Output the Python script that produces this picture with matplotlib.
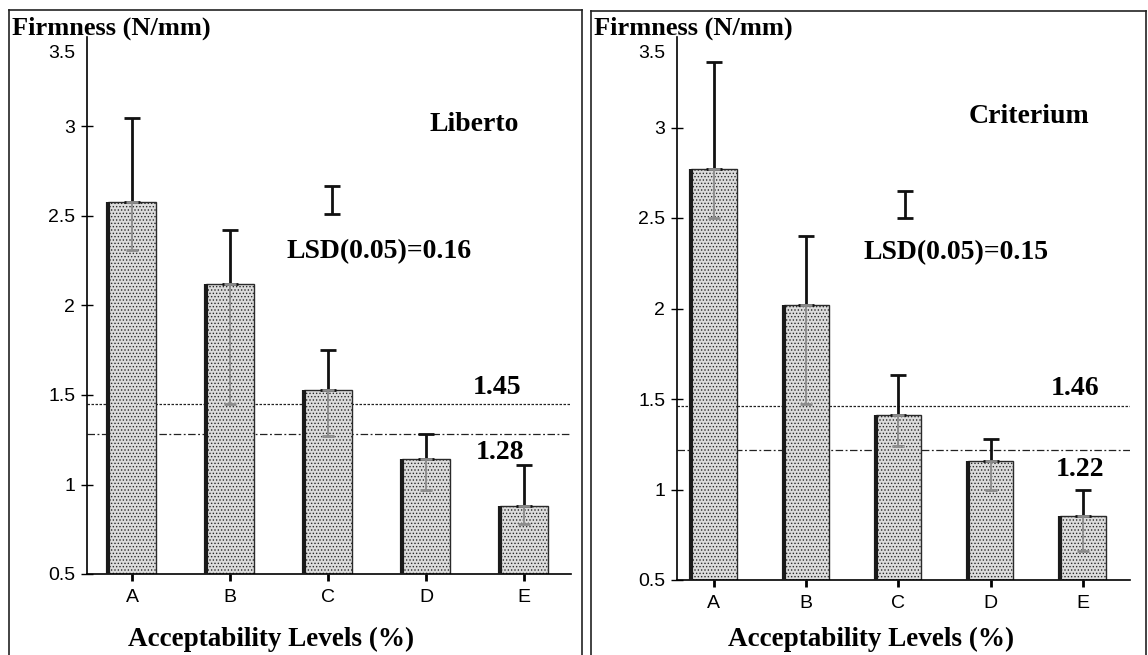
import matplotlib.pyplot as plt
import matplotlib.transforms as mtransforms
from matplotlib.lines import Line2D

# data
levels = ['A', 'B', 'C', 'D', 'E']
yticks = [0.5, 1, 1.5, 2, 2.5, 3, 3.5]

liberto_mean = [2.58, 2.12, 1.53, 1.14, 0.88]
liberto_err_up = [0.47, 0.30, 0.22, 0.14, 0.23]
liberto_err_down = [0.27, 0.67, 0.26, 0.17, 0.10]
liberto_limits = [1.45, 1.28]
liberto_lsd = 0.16

criterium_mean = [2.77, 2.02, 1.41, 1.16, 0.855]
criterium_err_up = [0.59, 0.38, 0.22, 0.12, 0.145]
criterium_err_down = [0.27, 0.55, 0.17, 0.16, 0.195]
criterium_limits = [1.46, 1.22]
criterium_lsd = 0.15

serif = 'Liberation Serif'
sans = 'Liberation Sans'


def panel(fig, rect, xlim, means, up, down, limits, lsd, lsd_x, lsd_lo,
          name, name_xy, lsd_txt_xy, lim_txt_xy):
    ax = fig.add_axes(rect)
    x = list(range(len(levels)))
    w = 0.49
    ax.bar(x, [m - 0.5 for m in means], bottom=0.5, width=w,
           color='#dcdcdc', edgecolor='#2a2a2a', linewidth=1.0,
           hatch='.....', zorder=2)
    # darker left side of each bar
    ax.vlines([i - w / 2 for i in x], 0.5, means, color='#1a1a1a',
              linewidth=3, zorder=3)
    # upper whisker (black), lower whisker (faded inside bar)
    ax.errorbar(x, means, yerr=[[0] * 5, up], fmt='none', ecolor='#111111',
                elinewidth=2, capsize=6, capthick=2, zorder=4)
    ax.errorbar(x, means, yerr=[down, [0] * 5], fmt='none', ecolor='#8c8c8c',
                elinewidth=1.3, capsize=4, capthick=2, zorder=4)

    ax.axhline(limits[0], color='#222222', lw=0.9, ls=(0, (2, 1.2)), zorder=1)
    ax.axhline(limits[1], color='#222222', lw=0.9, ls=(0, (6, 2, 1.5, 2)), zorder=1)

    # LSD bar
    ax.errorbar([lsd_x], [lsd_lo + lsd / 2], yerr=[[lsd / 2], [lsd / 2]],
                fmt='none', ecolor='#111111', elinewidth=2, capsize=6,
                capthick=2, zorder=4)

    ax.text(*name_xy, name, family=serif, weight='bold', fontsize=20,
            ha='center', va='center')
    ax.text(*lsd_txt_xy, 'LSD(0.05)=%.2f' % lsd, family=serif, weight='bold',
            fontsize=20, ha='center', va='center')
    ax.text(*lim_txt_xy[0], '%.2f' % limits[0], family=serif, weight='bold',
            fontsize=20, ha='center', va='center')
    ax.text(*lim_txt_xy[1], '%.2f' % limits[1], family=serif, weight='bold',
            fontsize=20, ha='center', va='center')

    ax.set_xlim(*xlim)
    ax.set_ylim(0.5, 3.5)
    ax.set_yticks(yticks)
    ax.set_yticklabels(['%g' % t for t in yticks], family=sans, fontsize=14)
    ax.set_xticks(x)
    ax.set_xticklabels(levels, family=sans, fontsize=14)
    ax.tick_params(axis='y', direction='inout', length=9, width=1, pad=4)
    ax.tick_params(axis='x', direction='out', length=5, width=2, pad=6)
    # top label sits a little below the axis end, under the title
    top = ax.get_yticklabels()[-1]
    top.set_transform(top.get_transform() +
                      mtransforms.ScaledTranslation(0, -0.15, fig.dpi_scale_trans))
    ax.yaxis.get_major_ticks()[-1].tick1line.set_visible(False)
    for s in ['top', 'right']:
        ax.spines[s].set_visible(False)
    for s in ['left', 'bottom']:
        ax.spines[s].set_linewidth(1.2)
    ax.patch.set_alpha(0)
    return ax


plt.rcParams['hatch.color'] = '#a0a0a0'
plt.rcParams['hatch.linewidth'] = 0.6
fig = plt.figure(figsize=(11.48, 6.55), dpi=100)

panel(fig, [87 / 1148, 1 - 574 / 655, 484 / 1148, 537 / 655], (-0.46, 4.48),
      liberto_mean, liberto_err_up, liberto_err_down, liberto_limits,
      liberto_lsd, 2.04, 2.51, 'Liberto', (3.49, 3.01), (2.52, 2.30),
      [(3.73, 1.54), (3.76, 1.18)])
panel(fig, [677 / 1148, 1 - 580 / 655, 453 / 1148, 543 / 655], (-0.40, 4.51),
      criterium_mean, criterium_err_up, criterium_err_down, criterium_limits,
      criterium_lsd, 2.07, 2.50, 'Criterium', (3.41, 3.06), (2.62, 2.31),
      [(3.91, 1.56), (3.97, 1.11)])

# titles / axis labels
fig.text(12 / 1148, 1 - 28 / 655, 'Firmness (N/mm)', family=serif,
         weight='bold', fontsize=19, ha='left', va='center')
fig.text(594 / 1148, 1 - 28 / 655, 'Firmness (N/mm)', family=serif,
         weight='bold', fontsize=19, ha='left', va='center')
fig.text(271 / 1148, 1 - 639 / 655, 'Acceptability Levels (%)', family=serif,
         weight='bold', fontsize=19.5, ha='center', va='center')
fig.text(871 / 1148, 1 - 639 / 655, 'Acceptability Levels (%)', family=serif,
         weight='bold', fontsize=19.5, ha='center', va='center')

# panel frames (pixel coords from top-left)
frame = dict(color='#222222', linewidth=1.2, transform=fig.transFigure)
for xs, ys in [((9, 9), (10, 655)), ((9, 582), (10, 10)), ((582, 582), (10, 655)),
               ((591, 591), (11, 655)), ((591, 1146), (11, 11)),
               ((1146, 1146), (11, 655))]:
    fig.add_artist(Line2D([v / 1148 for v in xs], [1 - v / 655 for v in ys], **frame))

fig.savefig('out.png', dpi=100)
